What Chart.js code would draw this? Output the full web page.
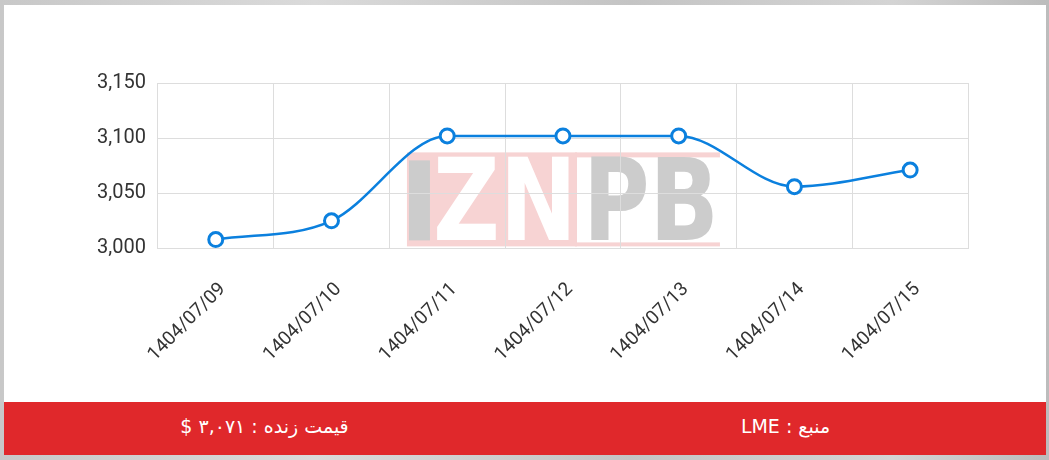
<!DOCTYPE html>
<html>
<head>
<meta charset="utf-8">
<script src="https://cdn.jsdelivr.net/npm/chart.js@4.4.0/dist/chart.umd.min.js"></script>
<style>
  html, body { margin: 0; padding: 0; }
  body {
    width: 1049px; height: 460px; overflow: hidden;
    background: linear-gradient(90deg, #c8c8c8, #dadada 30%, #c4c4c4 60%, #d4d4d4 85%, #bcbcbc);
    position: relative;
  }
  #panel {
    position: absolute; left: 4px; top: 5px; width: 1042px; height: 450px;
    background: #fff;
  }
  #chartBox { position: relative; width: 1042px; height: 397px; }
  #footer {
    display: flex; height: 53px; background: #e0282b; color: #fff;
    font-family: "DejaVu Sans", "Noto Sans", sans-serif; font-size: 19px;
  }
  #footer div { flex: 1; display: flex; align-items: center; justify-content: center; padding-bottom: 6px; }
</style>
</head>
<body>
<div id="panel">
  <div id="chartBox"><canvas id="priceChart"></canvas></div>
  <div id="footer">
    <div dir="rtl">قیمت زنده : ۳,۰۷۱ $</div>
    <div dir="rtl">منبع : LME</div>
  </div>
</div>
<script>
const dates = ["1404/07/09", "1404/07/10", "1404/07/11", "1404/07/12", "1404/07/13", "1404/07/14", "1404/07/15"];
const prices = [3008, 3025, 3102, 3102, 3102, 3056, 3071];
const yMin = 3000;
const yMax = 3150;
const yStep = 50;

// watermark sits under the grid, like a background image
const watermark = {
  id: "watermark",
  beforeDraw(chart) {
    const ctx = chart.ctx;
    const a = chart.chartArea;
    const cx = (a.left + a.right) / 2;
    const left = cx - 156;
    const top = a.bottom - 96;
    ctx.save();
    ctx.fillStyle = "#f7d3d3";
    ctx.fillRect(left, top, 170, 94);
    ctx.fillRect(left + 170, top, 143, 5);
    ctx.fillRect(left + 170, top + 90, 143, 4);
    ctx.fillRect(left + 168, top, 2, 94);
    ctx.fillStyle = "#cccccc";
    ctx.fillRect(left + 2, top + 8, 21, 80);
    ctx.font = "900 114px 'DejaVu Sans'";
    ctx.textBaseline = "alphabetic";
    ctx.fillStyle = "#ffffff";
    ctx.fillText("ZN", left + 26, top + 88, 144);
    ctx.fillStyle = "#cccccc";
    ctx.fillText("PB", left + 176, top + 88, 136);
    ctx.restore();
  }
};

const ctx = document.getElementById("priceChart").getContext("2d");
new Chart(ctx, {
  type: "line",
  data: {
    labels: dates,
    datasets: [{
      data: prices,
      borderColor: "#0b80de",
      borderWidth: 2.5,
      cubicInterpolationMode: "monotone",
      pointRadius: 7,
      pointBorderWidth: 3,
      pointBackgroundColor: "#fff",
      pointBorderColor: "#0b80de",
      fill: false
    }]
  },
  options: {
    responsive: true,
    maintainAspectRatio: false,
    animation: false,
    layout: { padding: { top: 78, left: 81, right: 78, bottom: 6 } },
    plugins: {
      legend: { display: false },
      tooltip: { enabled: false }
    },
    scales: {
      x: {
        offset: true,
        grid: { offset: true, drawTicks: false, color: "#dddddd" },
        border: { color: "#dddddd" },
        ticks: {
          color: "#333",
          font: { family: "Roboto", size: 19 },
          maxRotation: 45, minRotation: 45,
          labelOffset: 7,
          padding: 30
        }
      },
      y: {
        min: yMin, max: yMax,
        grid: { drawTicks: false, color: "#dddddd" },
        border: { color: "#dddddd" },
        ticks: {
          stepSize: yStep,
          color: "#333",
          font: { family: "Roboto", size: 20 },
          padding: 12,
          callback: v => v.toLocaleString("en-US")
        }
      }
    }
  },
  plugins: [watermark]
});
</script>
</body>
</html>
